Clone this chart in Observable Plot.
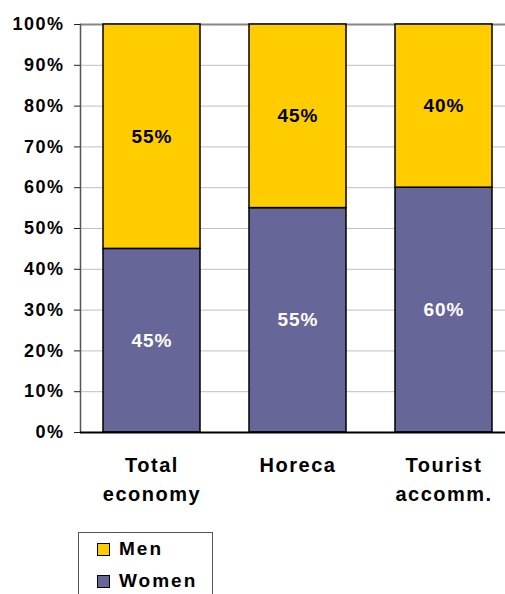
<!DOCTYPE html>
<html>
<head>
<meta charset="utf-8">
<script src="https://cdn.jsdelivr.net/npm/d3@7"></script>
<script src="https://cdn.jsdelivr.net/npm/@observablehq/plot@0.6"></script>
<style>
  html, body { margin: 0; padding: 0; background: #fff; width: 505px; height: 594px; overflow: hidden; }
  body { font-family: Arial, "Liberation Sans", sans-serif; }
  #legend { position: absolute; left: 78px; top: 532px; width: 135px; height: 80px; border: 1px solid #555; box-sizing: border-box; }
  .item { position: absolute; left: 18px; display: flex; align-items: center; font-weight: bold; font-size: 19px; letter-spacing: 2px; color: #000; line-height: 22px; }
  .sw { width: 11px; height: 11px; border: 1px solid #000; margin-right: 9px; }
</style>
</head>
<body>
<div id="chart"></div>
<div id="legend">
  <div class="item" style="top:5px"><div class="sw" style="background:#FFCC00"></div>Men</div>
  <div class="item" style="top:37px"><div class="sw" style="background:#666699"></div>Women</div>
</div>
<script>
const categories = ["Total economy", "Horeca", "Tourist accomm."];
const categoryLabels = ["Total\neconomy", "Horeca", "Tourist\naccomm."];
const women = [45, 55, 60];
const men = [55, 45, 40];
const yTicks = [0, 10, 20, 30, 40, 50, 60, 70, 80, 90, 100];

const data = [];
categories.forEach((c, i) => {
  data.push({cat: c, sex: "Women", value: women[i]});
  data.push({cat: c, sex: "Men", value: men[i]});
});
const labelOf = new Map(categories.map((c, i) => [c, categoryLabels[i]]));

const chart = Plot.plot({
  width: 505,
  height: 510,
  marginLeft: 80,
  marginRight: 0,
  marginTop: 24,
  marginBottom: 78,
  style: {fontFamily: "Arial, 'Liberation Sans', sans-serif", background: "white", overflow: "visible"},
  x: {domain: categories, range: [78, 516], paddingInner: 0.336, paddingOuter: 0.168, label: null},
  y: {domain: [0, 100], label: null},
  color: {domain: ["Men", "Women"], range: ["#FFCC00", "#666699"]},
  marks: [
    Plot.ruleY(yTicks.filter(d => d > 0 && d < 100), {stroke: "#c0c0c0", strokeWidth: 1}),
    Plot.ruleY([100], {stroke: "#888", strokeWidth: 2}),
    Plot.barY(data, {x: "cat", y: "value", fill: "sex", stroke: "#000", strokeWidth: 1.5}),
    Plot.text(data, Plot.stackY({x: "cat", y: "value", text: d => d.sex === "Men" ? d.value + "%" : "", fill: "#000", fontSize: 19, fontWeight: "bold", className: "lbl"})),
    Plot.text(data, Plot.stackY({x: "cat", y: "value", text: d => d.sex === "Women" ? d.value + "%" : "", fill: "#fff", fontSize: 19, fontWeight: "bold", className: "lbl"})),
    Plot.frame({anchor: "left", stroke: "#555", strokeWidth: 1.5}),
    Plot.ruleY([0], {stroke: "#000", strokeWidth: 2}),
    Plot.axisY({ticks: yTicks, tickFormat: d => d + "%", tickSize: 6, tickPadding: 10, stroke: "#222", fontSize: 18, fontWeight: "bold", fill: "#000", label: null, className: "ylab"}),
    Plot.axisX({tickFormat: d => labelOf.get(d), tickSize: 0, tickPadding: 19, fontSize: 20, fontWeight: "bold", fill: "#000", lineHeight: 1.45, label: null, className: "xlab"})
  ]
});
chart.querySelectorAll("text").forEach(t => t.style.letterSpacing = "1px");
chart.querySelectorAll(".ylab text").forEach(t => t.style.letterSpacing = "1.5px");
chart.querySelectorAll(".xlab text, .xlab tspan").forEach(t => t.style.letterSpacing = "1.5px");
document.getElementById("chart").appendChild(chart);
</script>
</body>
</html>
